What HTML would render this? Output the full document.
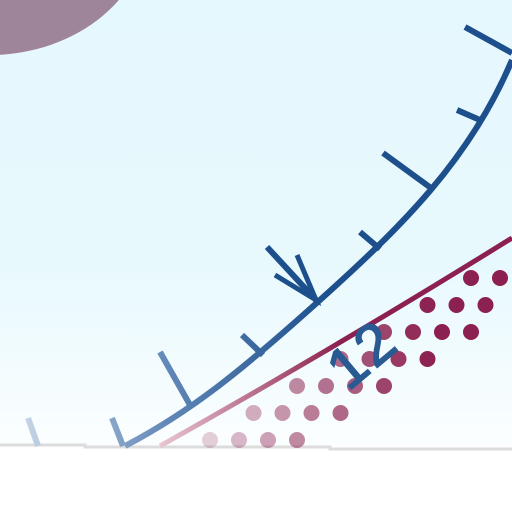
<!DOCTYPE html>
<html><head><meta charset="utf-8"><style>
html,body{margin:0;padding:0;width:512px;height:512px;overflow:hidden;background:#fff}
</style></head><body>
<svg width="512" height="512" viewBox="0 0 512 512">
<defs>
<linearGradient id="bg" x1="0" y1="0" x2="0" y2="1">
<stop offset="0" stop-color="#e5f8fd"/><stop offset="0.6" stop-color="#e8f9fd"/><stop offset="1" stop-color="#fbfeff"/>
</linearGradient>
<linearGradient id="blue" gradientUnits="userSpaceOnUse" x1="20" y1="0" x2="330" y2="0">
<stop offset="0" stop-color="#c8d6e6"/><stop offset="0.5" stop-color="#5c84b4"/><stop offset="1" stop-color="#1c4f8c"/>
</linearGradient>
<linearGradient id="red" gradientUnits="userSpaceOnUse" x1="160" y1="0" x2="340" y2="0">
<stop offset="0" stop-color="#e8c6d2"/><stop offset="1" stop-color="#8c2050"/>
</linearGradient>
</defs>
<rect x="0" y="0" width="512" height="446" fill="url(#bg)"/>
<ellipse cx="-10" cy="-80" rx="160" ry="135" fill="#9e8599"/>
<path d="M0 445 H85 V447 H330 V449 H512" stroke="#dcdcdc" stroke-width="3" fill="none"/>
<g id="dots"></g>
<path d="M160 446 C260 390 380 320 512 238" stroke="url(#red)" stroke-width="5" fill="none"/>
<path d="M125 446 C190 412 240 372 320 300 C400 228 470 160 512 60" stroke="url(#blue)" stroke-width="6" fill="none"/>
<g stroke="url(#blue)" stroke-width="6" stroke-linecap="butt">
<line x1="28" y1="418" x2="38" y2="446"/>
<line x1="112" y1="418" x2="123" y2="446"/>
<line x1="160" y1="352" x2="190" y2="405"/>
<line x1="242" y1="335" x2="263" y2="355"/>
<line x1="360" y1="232" x2="380" y2="249" stroke="#1c4f8c"/>
<line x1="383" y1="153" x2="431" y2="188" stroke="#1c4f8c"/>
<line x1="457" y1="110" x2="480" y2="120" stroke="#1c4f8c"/>
<line x1="465" y1="27" x2="512" y2="53" stroke="#1c4f8c"/>
</g>
<g stroke="#1c4f8c" stroke-width="6" fill="none">
<line x1="267" y1="247" x2="316" y2="300"/>
<path d="M297 255 L316 300 L275 275" stroke-width="5"/>
</g>
<text x="0" y="0" transform="translate(348 392) rotate(-40)" font-family="Liberation Sans, sans-serif" font-size="58" fill="#2a5a92" stroke="#2a5a92" stroke-width="1.5" letter-spacing="3">12</text>
</svg>
<script>
const g=document.getElementById('dots');
for(let r=0;r<8;r++){
 const y=440-r*27;
 for(let c=-2;c<14;c++){
  const x=210+c*29+(r%2)*14.5;
  const redY=446-(x-160)*(208/352);
  if(y<redY+15||y>redY+82||x>512||x<200) continue;
  const t=Math.min(1,Math.max(0,(x-200)/230));
  const el=document.createElementNS('http://www.w3.org/2000/svg','circle');
  el.setAttribute('cx',x);el.setAttribute('cy',y);el.setAttribute('r',8);
  el.setAttribute('fill','#8c2050');el.setAttribute('opacity',(0.18+0.82*t).toFixed(2));
  
  
  g.appendChild(el);
 }
}
</script>
</body></html>
